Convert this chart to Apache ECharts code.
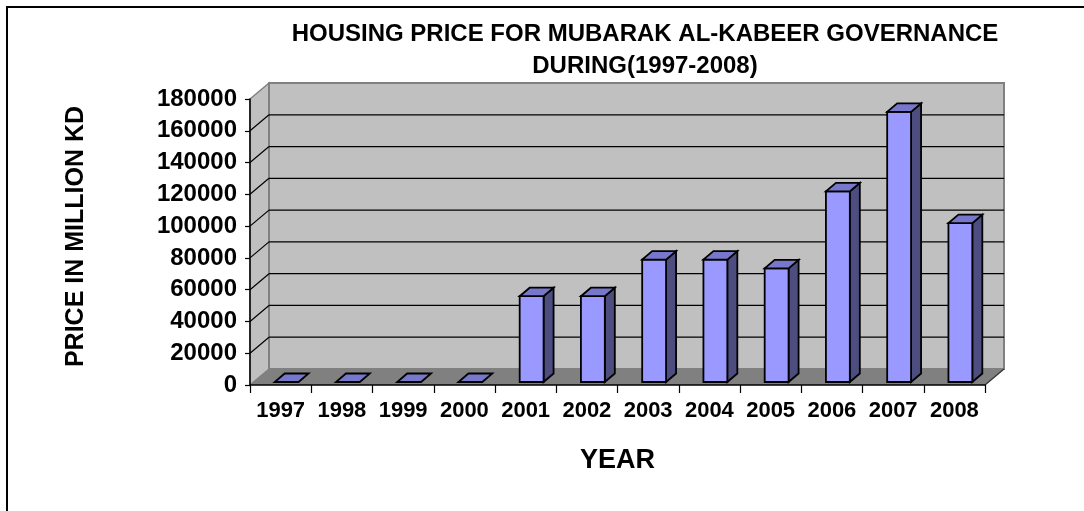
<!DOCTYPE html>
<html>
<head>
<meta charset="utf-8">
<script src="https://cdn.jsdelivr.net/npm/echarts@6/dist/echarts.min.js"></script>
<style>
html,body{margin:0;padding:0;background:#fff;}
#chart{width:1084px;height:511px;}
</style>
</head>
<body>
<div id="chart"></div>
<script>
const titleText = 'HOUSING PRICE FOR MUBARAK AL-KABEER GOVERNANCE\nDURING(1997-2008)';
const years = ['1997','1998','1999','2000','2001','2002','2003','2004','2005','2006','2007','2008'];
const prices = [0, 0, 0, 0, 54000, 54000, 77000, 77000, 71500, 120000, 170000, 100000];
const yMin = 0;
const yMax = 180000;
const yStep = 20000;
const xName = 'YEAR';
const yName = 'PRICE IN MILLION KD';

const FONT = '"Liberation Sans", Arial, sans-serif';
// 3D wall offset (pixels)
const WDX = 19, WDY = -16;
// bar depth and placement
const BDX = 10, BDY = -8.5, BSHIFT_X = 6, BSHIFT_Y = -3;

const chart = echarts.init(document.getElementById('chart'), null, {renderer: 'canvas'});

function sceneRender(params, api) {
  const bw = api.size([1, 0])[0];
  const n = years.length;
  const x0 = api.coord([0, yMin])[0] - bw / 2;
  const xR = api.coord([n - 1, yMin])[0] + bw / 2;
  const y0 = api.coord([0, yMin])[1];
  const yT = api.coord([0, yMax])[1];
  const children = [];
  // left side wall
  children.push({type: 'polygon', shape: {points: [[x0, y0], [x0 + WDX, y0 + WDY], [x0 + WDX, yT + WDY], [x0, yT]]},
    style: {fill: '#C0C0C0', stroke: '#808080', lineWidth: 1.5}});
  // back wall
  children.push({type: 'rect', shape: {x: x0 + WDX, y: yT + WDY, width: xR - x0, height: y0 - yT},
    style: {fill: '#C0C0C0', stroke: '#808080', lineWidth: 2}});
  // floor
  children.push({type: 'polygon', shape: {points: [[x0, y0], [xR, y0], [xR + WDX, y0 + WDY], [x0 + WDX, y0 + WDY]]},
    style: {fill: '#808080', stroke: null}});
  children.push({type: 'line', shape: {x1: xR, y1: y0, x2: xR + WDX, y2: y0 + WDY},
    style: {stroke: '#333', lineWidth: 1.2}});
  // gridlines on back wall and left wall
  for (let v = yMin + yStep; v < yMax; v += yStep) {
    const y = api.coord([0, v])[1];
    children.push({type: 'line', shape: {x1: x0 + WDX, y1: y + WDY, x2: xR + WDX, y2: y + WDY},
      style: {stroke: '#000', lineWidth: 1.2}});
    children.push({type: 'line', shape: {x1: x0, y1: y, x2: x0 + WDX, y2: y + WDY},
      style: {stroke: '#000', lineWidth: 1.2}});
  }
  return {type: 'group', children: children};
}

function barRender(params, api) {
  const idx = api.value(0);
  const val = api.value(1);
  const bw = api.size([1, 0])[0];
  const fw = bw * 0.39;
  const base = api.coord([idx, 0]);
  const top = api.coord([idx, val]);
  const xl = base[0] + BSHIFT_X - fw / 2;
  const xr = xl + fw;
  const yB = base[1] + BSHIFT_Y;
  const yT = top[1] + BSHIFT_Y;
  const st = {stroke: '#000', lineWidth: 1.8, lineJoin: 'miter'};
  const children = [];
  if (yB - yT > 0.5) {
    children.push({type: 'polygon', shape: {points: [[xr, yB], [xr + BDX, yB + BDY], [xr + BDX, yT + BDY], [xr, yT]]},
      style: Object.assign({fill: '#4D4D80'}, st)});
    children.push({type: 'rect', shape: {x: xl, y: yT, width: fw, height: yB - yT},
      style: Object.assign({fill: '#9999FF'}, st)});
  }
  children.push({type: 'polygon', shape: {points: [[xl, yT], [xr, yT], [xr + BDX, yT + BDY], [xl + BDX, yT + BDY]]},
    style: Object.assign({fill: '#7777CC'}, st)});
  return {type: 'group', children: children};
}

const option = {
  backgroundColor: '#ffffff',
  animation: false,
  title: {
    text: titleText,
    left: 645,
    top: 18,
    textAlign: 'center',
    padding: 0,
    textStyle: {fontFamily: FONT, fontWeight: 'bold', fontSize: 24, lineHeight: 32, color: '#000'}
  },
  graphic: [{
    type: 'rect', silent: true, z: 100,
    shape: {x: 7, y: 7, width: 1200, height: 700},
    style: {fill: null, stroke: '#000', lineWidth: 2}
  }],
  grid: {left: 250, right: 99, top: 99, bottom: 126, containLabel: false},
  xAxis: {
    type: 'category',
    data: years,
    boundaryGap: true,
    z: 10,
    name: xName,
    nameLocation: 'middle',
    nameGap: 62,
    nameTextStyle: {fontFamily: FONT, fontWeight: 'bold', fontSize: 27, color: '#000'},
    axisLine: {show: true, lineStyle: {color: '#000', width: 1.5}},
    axisTick: {show: true, length: 8, alignWithLabel: false, lineStyle: {color: '#000', width: 1.2}},
    axisLabel: {show: true, interval: 0, margin: 15, fontFamily: FONT, fontWeight: 'bold', fontSize: 22, color: '#000'},
    splitLine: {show: false}
  },
  yAxis: {
    type: 'value',
    min: yMin,
    max: yMax,
    interval: yStep,
    z: 10,
    name: yName,
    nameLocation: 'middle',
    nameGap: 161,
    nameRotate: 90,
    nameTextStyle: {fontFamily: FONT, fontWeight: 'bold', fontSize: 25, color: '#000', padding: [0, 0, 0, 11]},
    axisLine: {show: true, lineStyle: {color: '#000', width: 1.5}},
    axisTick: {show: true, length: 5, inside: false, lineStyle: {color: '#000', width: 1.2}},
    axisLabel: {show: true, margin: 13, fontFamily: FONT, fontWeight: 'bold', fontSize: 24, color: '#000',
      formatter: function (v) { return String(v); }},
    splitLine: {show: false}
  },
  series: [
    {
      type: 'custom', name: 'scene', z: 1, silent: true, clip: false,
      data: [[0, 0]],
      encode: {x: 0, y: 1},
      renderItem: sceneRender
    },
    {
      type: 'custom', name: 'Price', z: 3, clip: false,
      data: prices.map((v, i) => [i, v]),
      encode: {x: 0, y: 1},
      renderItem: barRender
    }
  ]
};
chart.setOption(option);
</script>
</body>
</html>
